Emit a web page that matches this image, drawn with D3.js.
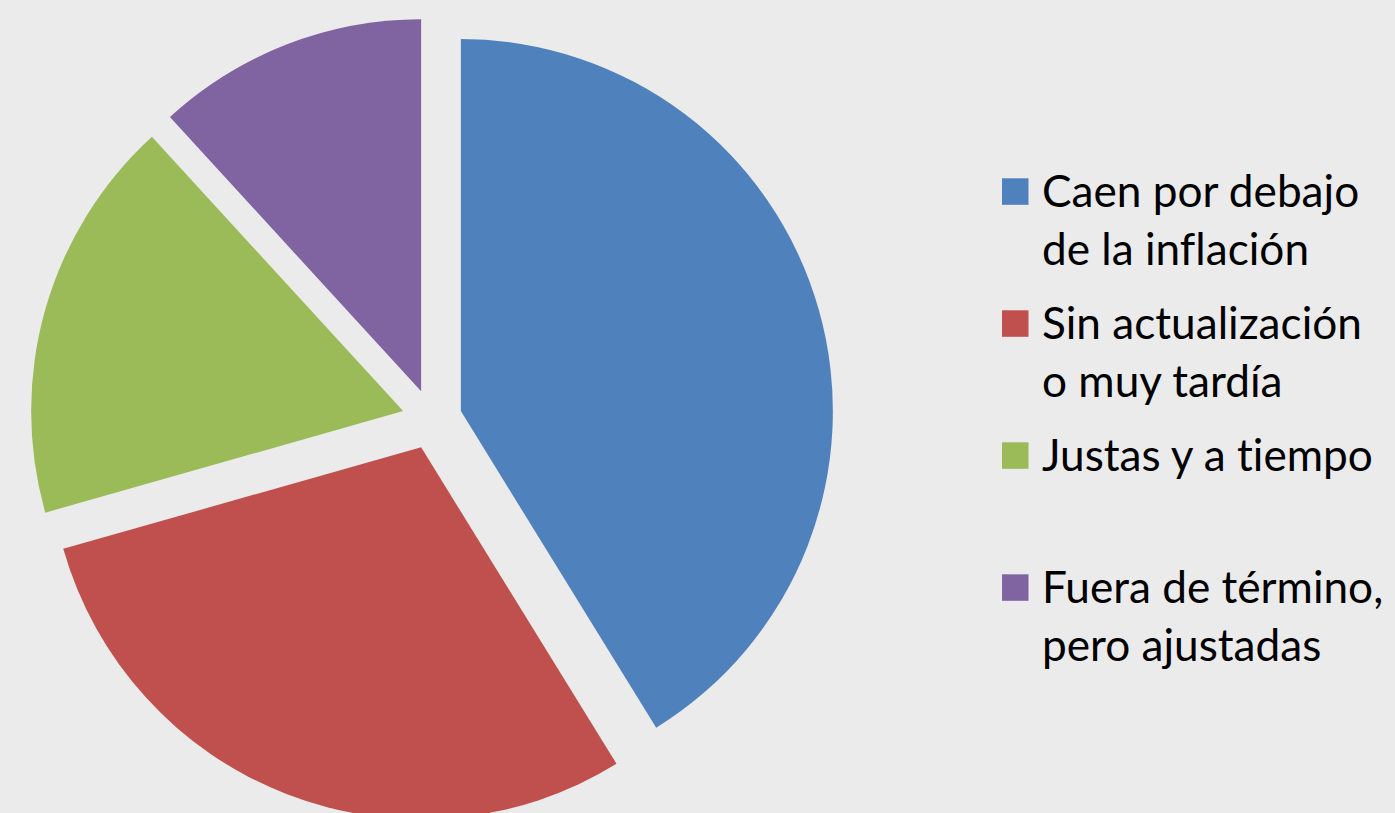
<!DOCTYPE html>
<html>
<head>
<meta charset="utf-8">
<script src="https://cdn.jsdelivr.net/npm/d3@7"></script>
<style>
  html, body { margin: 0; padding: 0; background: #EBEBEB; }
  svg { display: block; }
  text { font-variant-ligatures: none; font-feature-settings: "liga" 0, "clig" 0; }
</style>
</head>
<body>
<svg id="chart" width="1395" height="813"></svg>
<script>
const categories = [
  ["Caen por debajo", "de la inflación"],
  ["Sin actualización", "o muy tardía"],
  ["Justas y a tiempo"],
  ["Fuera de término,", "pero ajustadas"]
];
const values = [41.2, 29.4, 17.6, 11.8];
const colors = ["#4F81BD", "#C0504D", "#9BBB59", "#8064A2"];

const W = 1395, H = 813;
const svg = d3.select("#chart");
svg.append("rect").attr("width", W).attr("height", H).attr("fill", "#EBEBEB");

const cx = 432, cy = 419.3, R = 372, explode = 30;

const pie = d3.pie().sort(null).value(d => d).startAngle(0).endAngle(2 * Math.PI);
const arc = d3.arc().innerRadius(0).outerRadius(R);
const arcs = pie(values);

const g = svg.append("g").attr("transform", `translate(${cx},${cy})`);
g.selectAll("path")
  .data(arcs)
  .join("path")
  .attr("d", arc)
  .attr("fill", (d, i) => colors[i])
  .attr("transform", d => {
    const m = (d.startAngle + d.endAngle) / 2;
    return `translate(${explode * Math.sin(m)},${-explode * Math.cos(m)})`;
  });

// Legend
const legendX = 1002, legendTop = 178.3, step = 132, sq = 26.5, lineH = 58;
const fontFamily = "Lato, 'Open Sans', sans-serif";
const lg = svg.append("g");
const items = lg.selectAll("g").data(categories).join("g")
  .attr("transform", (d, i) => `translate(${legendX},${legendTop + i * step})`);
items.append("rect")
  .attr("width", sq).attr("height", sq)
  .attr("fill", (d, i) => colors[i]);
const texts = items.append("text")
  .attr("x", 40)
  .attr("y", sq + 2)
  .attr("font-family", fontFamily)
  .attr("fill", "#000");
texts.selectAll("tspan").data(d => d).join("tspan")
  .attr("x", 40)
  .attr("dy", (d, j) => j === 0 ? 0 : lineH)
  .text(d => d);

// Fit font size so "Sin actualización" spans ~320px like reference
texts.attr("font-size", 40);
const probe = texts.filter((d, i) => i === 1).select("tspan").node();
const w40 = probe.getComputedTextLength();
const fs = 40 * 320 / w40;
texts.attr("font-size", fs);
</script>
</body>
</html>
